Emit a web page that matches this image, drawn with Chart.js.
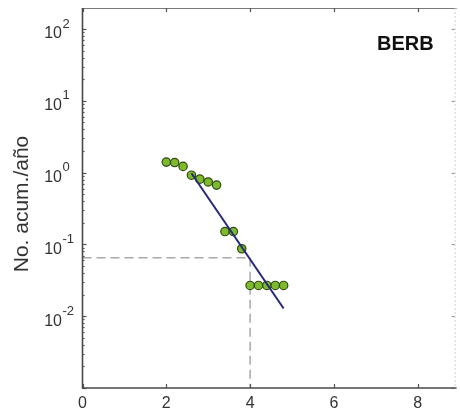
<!DOCTYPE html>
<html>
<head>
<meta charset="utf-8">
<script src="https://cdn.jsdelivr.net/npm/chart.js@4.4.1/dist/chart.umd.min.js"></script>
<style>
  html, body { margin: 0; padding: 0; background: #ffffff; }
  #wrap { width: 460px; height: 415px; position: relative; }
</style>
</head>
<body>
<div id="wrap"><canvas id="c" width="460" height="415"></canvas></div>
<script>
// Cumulative annual rate vs magnitude (Gutenberg-Richter plot), zone BERB
const magnitudes = [2.0, 2.2, 2.4, 2.6, 2.8, 3.0, 3.2, 3.4, 3.6, 3.8, 4.0, 4.2, 4.4, 4.6, 4.8];
const cumRates   = [1.40, 1.38, 1.22, 0.92, 0.81, 0.74, 0.67, 0.151, 0.151, 0.087, 0.0268, 0.0268, 0.0268, 0.0268, 0.0268];

// Fitted line end points
const fitMags  = [2.6, 4.8];
const fitRates = [0.98, 0.0128];

// Reference level read at M = 4
const refMag  = 4.0;
const refRate = 0.065;

// Axis ranges and tick labels
const xMin = 0, xMax = 8.88;
const xTickValues = [0, 2, 4, 6, 8];
const yMin = 0.001, yMax = 196;
const yExponents = [2, 1, 0, -1, -2];

const zoneName = 'BERB';
const yTitle = 'No. acum./año';

const FONT = '"Liberation Sans", Arial, Helvetica, sans-serif';
const TEXT_COLOR = '#333333';

const pts = magnitudes.map((m, i) => ({ x: m, y: cumRates[i] }));
const fit = fitMags.map((m, i) => ({ x: m, y: fitRates[i] }));
const hDash = [{ x: xMin, y: refRate }, { x: refMag, y: refRate }];
const vDash = [{ x: refMag, y: refRate }, { x: refMag, y: yMin }];

// Frame, inward ticks, power-of-ten labels, axis title and zone name
const framePlugin = {
  id: 'frame',
  afterDatasetsDraw(chart) {
    const { ctx, chartArea: a, scales } = chart;
    const xs = scales.x, ys = scales.y;
    ctx.save();

    // light top / right borders
    ctx.lineWidth = 1;
    ctx.strokeStyle = '#7a7a7a';
    ctx.beginPath();
    ctx.moveTo(a.left, a.top + 0.5); ctx.lineTo(a.right + 2, a.top + 0.5);
    ctx.stroke();
    ctx.strokeStyle = '#d2d2d2';
    ctx.setLineDash([2, 2]);
    ctx.beginPath();
    ctx.moveTo(a.right + 0.5, a.top); ctx.lineTo(a.right + 0.5, a.bottom);
    ctx.stroke();
    ctx.setLineDash([]);

    // x ticks (bottom and top, inward)
    ctx.strokeStyle = '#555555';
    ctx.lineWidth = 1.2;
    xTickValues.forEach(v => {
      const px = Math.round(xs.getPixelForValue(v)) + 0.5;
      ctx.beginPath();
      ctx.moveTo(px, a.bottom); ctx.lineTo(px, a.bottom - 4);
      ctx.moveTo(px, a.top); ctx.lineTo(px, a.top + 4);
      ctx.stroke();
    });

    // y ticks: majors and minors on the left, majors on the right
    for (let e = -3; e <= 2; e++) {
      for (let m = 1; m <= 9; m++) {
        const v = m * Math.pow(10, e);
        if (v < yMin || v > yMax) continue;
        const py = Math.round(ys.getPixelForValue(v)) + 0.5;
        const len = m === 1 ? 4 : 2;
        ctx.strokeStyle = '#555555';
        ctx.beginPath();
        ctx.moveTo(a.left, py); ctx.lineTo(a.left + len, py);
        ctx.stroke();
        if (m === 1) {
          ctx.strokeStyle = '#9a9a9a';
          ctx.beginPath();
          ctx.moveTo(a.right, py); ctx.lineTo(a.right - 3, py);
          ctx.stroke();
        }
      }
    }

    // main left and bottom axes
    ctx.strokeStyle = '#4a4a4a';
    ctx.lineWidth = 1.6;
    ctx.beginPath();
    ctx.moveTo(a.left, a.top);
    ctx.lineTo(a.left, a.bottom);
    ctx.lineTo(a.right + 2, a.bottom);
    ctx.stroke();

    // y tick labels as 10 with raised exponent
    ctx.fillStyle = TEXT_COLOR;
    ctx.textBaseline = 'middle';
    yExponents.forEach(e => {
      const py = ys.getPixelForValue(Math.pow(10, e));
      ctx.font = '16px ' + FONT;
      ctx.textAlign = 'right';
      ctx.fillText('10', 62, py + 5);
      ctx.font = '13px ' + FONT;
      ctx.textAlign = 'left';
      ctx.fillText(String(e), 62.5, py - 5);
    });

    // y axis title, rotated
    ctx.save();
    ctx.translate(22, 204);
    ctx.rotate(-Math.PI / 2);
    ctx.font = '21px ' + FONT;
    ctx.textAlign = 'center';
    ctx.textBaseline = 'middle';
    ctx.fillStyle = TEXT_COLOR;
    ctx.fillText(yTitle, 0, 0);
    ctx.restore();

    // zone name
    ctx.font = 'bold 20px ' + FONT;
    ctx.fillStyle = '#111111';
    ctx.textAlign = 'left';
    ctx.fillText(zoneName, 377, 44);

    ctx.restore();
  }
};

new Chart(document.getElementById('c'), {
  type: 'scatter',
  data: {
    datasets: [
      {
        label: 'ajuste',
        data: fit,
        showLine: true,
        borderColor: '#26287a',
        borderWidth: 2,
        pointRadius: 0,
        order: 0
      },
      {
        label: 'acumulado',
        data: pts,
        showLine: false,
        pointRadius: 4.2,
        pointBackgroundColor: '#7dbb2c',
        pointBorderColor: '#2f4a12',
        pointBorderWidth: 1.2,
        order: 1
      },
      {
        label: 'nivel',
        data: hDash,
        showLine: true,
        borderColor: '#a8a8a8',
        borderWidth: 1.5,
        borderDash: [9, 5],
        pointRadius: 0,
        order: 2
      },
      {
        label: 'M4',
        data: vDash,
        showLine: true,
        borderColor: '#a8a8a8',
        borderWidth: 1.5,
        borderDash: [9, 5],
        pointRadius: 0,
        order: 2
      }
    ]
  },
  options: {
    responsive: false,
    animation: false,
    events: [],
    layout: { padding: { top: 8, right: 2, left: 0, bottom: 0 } },
    plugins: {
      legend: { display: false },
      tooltip: { enabled: false }
    },
    scales: {
      x: {
        type: 'linear',
        min: xMin,
        max: xMax,
        grid: { display: false, drawTicks: false },
        border: { display: false },
        afterBuildTicks(scale) {
          scale.ticks = xTickValues.map(v => ({ value: v }));
        },
        afterFit(scale) { scale.height = 27; },
        ticks: {
          padding: 6,
          color: TEXT_COLOR,
          font: { family: FONT, size: 16 },
          maxRotation: 0,
          callback: v => String(v)
        }
      },
      y: {
        type: 'logarithmic',
        min: yMin,
        max: yMax,
        grid: { display: false, drawTicks: false },
        border: { display: false },
        ticks: { display: false },
        afterFit(scale) { scale.width = 82.5; },
        title: { display: false }
      }
    }
  },
  plugins: [framePlugin]
});
</script>
</body>
</html>
